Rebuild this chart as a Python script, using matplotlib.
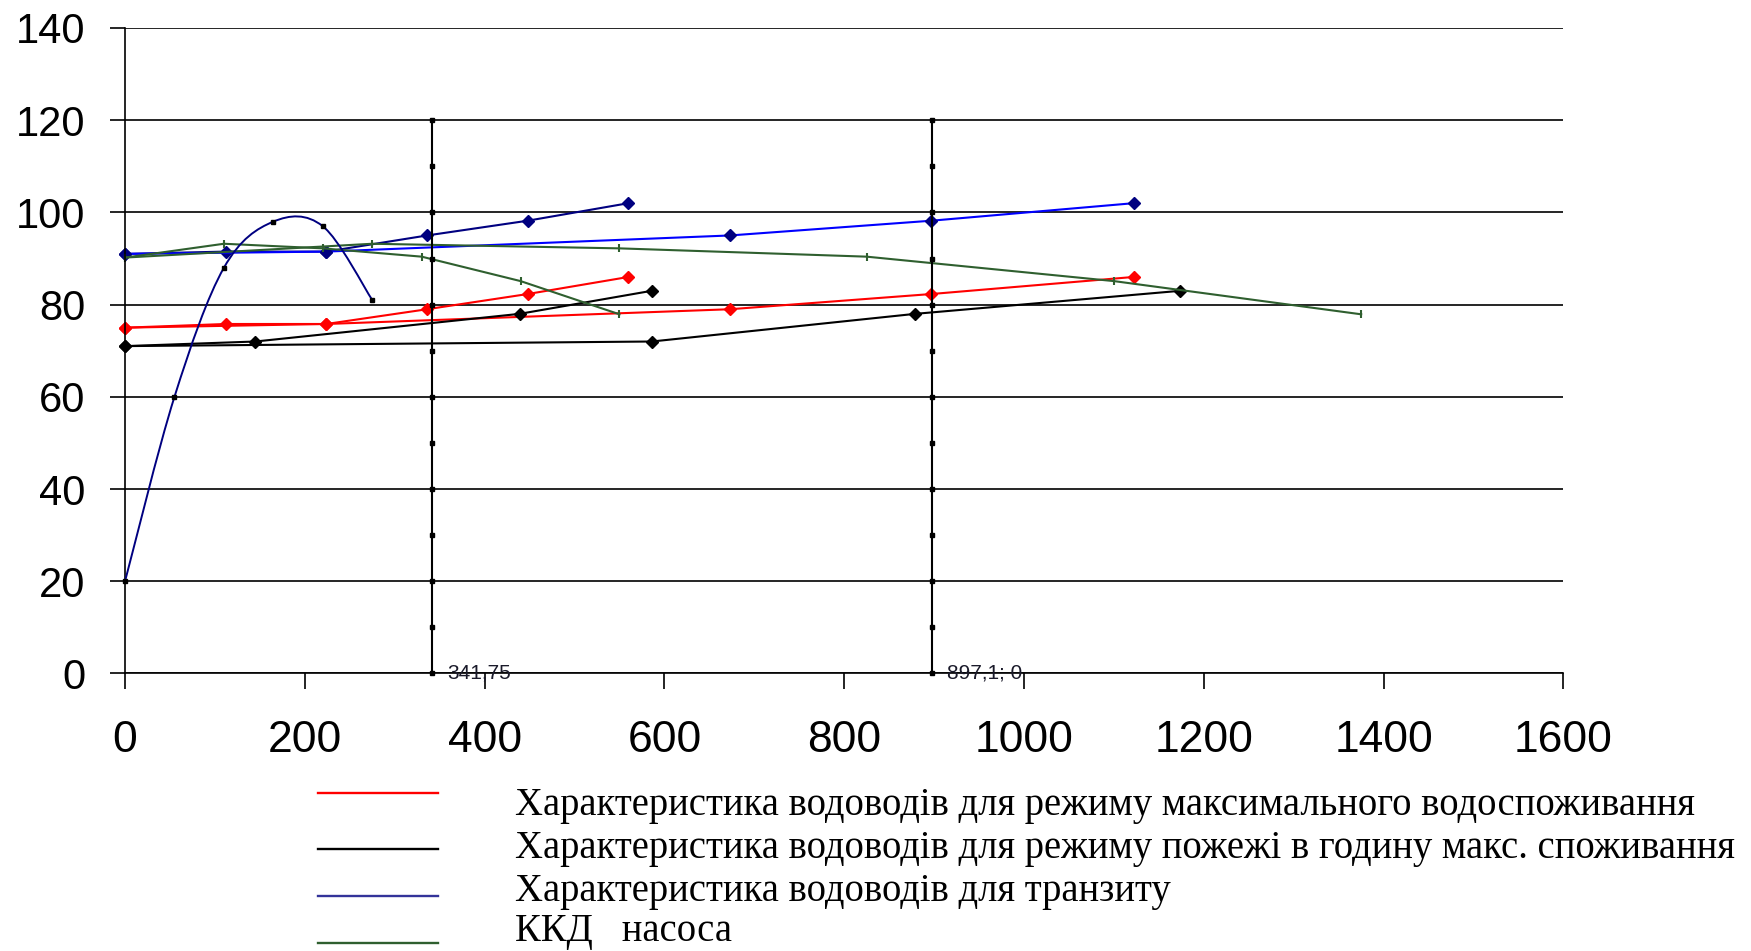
import matplotlib
matplotlib.use("Agg")
import matplotlib.pyplot as plt
from matplotlib.path import Path
from matplotlib.patches import PathPatch
from matplotlib.lines import Line2D

# Water mains characteristic, maximum consumption mode (one and two lines)
q_max_1 = [0, 112, 224, 336, 448, 560]
h_max_1 = [75, 75.8, 75.8, 79, 82.3, 86]
q_max_2 = [0, 224, 673, 897, 1122]
h_max_2 = [75, 75.8, 79, 82.3, 86]

# Fire during the hour of maximum consumption
q_fire_1 = [0, 145, 439, 586]
h_fire_1 = [71, 72, 78, 83]
q_fire_2 = [0, 586, 879, 1174]
h_fire_2 = [71, 72, 78, 83]

# Transit mode
q_tr_1 = [0, 112, 224, 336, 448, 560]
h_tr_1 = [91, 91.5, 91.5, 95, 98.2, 102]
q_tr_2 = [0, 224, 673, 897, 1122]
h_tr_2 = [91, 91.5, 95, 98.2, 102]

# Pump Q-H curve
q_pump = [0, 55, 110, 165, 220, 275]
h_pump = [20, 60, 88, 98, 97, 81]

# Pump efficiency (one pump and pumps in parallel)
q_eff_1 = [0, 110, 220, 330, 440, 550]
eff_1 = [90.2, 93.2, 92.2, 90.4, 85.1, 77.9]
q_eff_2 = [0, 275, 550, 825, 1100, 1375]
eff_2 = [90.2, 93.2, 92.2, 90.4, 85.1, 77.9]

# Operating points (vertical markers)
op_q = [341.75, 897.1]
op_h = [0, 10, 20, 30, 40, 50, 60, 70, 80, 90, 100, 110, 120]
op_labels = ["341,75", "897,1; 0"]

legend_labels = [
    "Характеристика водоводів для режиму максимального водоспоживання",
    "Характеристика водоводів для режиму пожежі в годину макс. споживання",
    "Характеристика водоводів для транзиту",
    "ККД   насоса",
]

x_ticks = [0, 200, 400, 600, 800, 1000, 1200, 1400, 1600]
y_ticks = [0, 20, 40, 60, 80, 100, 120, 140]

RED = "#FF0000"
BLACK = "#000000"
NAVY = "#000080"
BLUE = "#0000FF"
GREEN = "#2F5F2F"

W, H = 1751, 951


def smooth_path(xs, ys):
    """Catmull-Rom style smoothed path through the points as cubic Beziers."""
    pts = list(zip(xs, ys))
    n = len(pts)
    verts = [pts[0]]
    codes = [Path.MOVETO]
    for i in range(n - 1):
        p0 = pts[i - 1] if i > 0 else pts[i]
        p1 = pts[i]
        p2 = pts[i + 1]
        p3 = pts[i + 2] if i + 2 < n else pts[i + 1]
        c1 = (p1[0] + (p2[0] - p0[0]) / 6, p1[1] + (p2[1] - p0[1]) / 6)
        c2 = (p2[0] - (p3[0] - p1[0]) / 6, p2[1] - (p3[1] - p1[1]) / 6)
        verts += [c1, c2, p2]
        codes += [Path.CURVE4] * 3
    return Path(verts, codes)


fig = plt.figure(figsize=(W / 100, H / 100), dpi=100)
ax = fig.add_axes([0.0714, 0.2918, 0.8215, 0.6788])

ax.set_xlim(0, 1600)
ax.set_ylim(0, 140)
ax.set_xticks(x_ticks)
ax.set_yticks(y_ticks)

ax.spines["top"].set_visible(False)
ax.spines["right"].set_visible(False)
for s in ("left", "bottom"):
    ax.spines[s].set_linewidth(1.2)
    ax.spines[s].set_color("black")

ax.yaxis.grid(True, color="black", linewidth=1.2)
ax.set_axisbelow(True)

ax.tick_params(axis="y", direction="out", length=10.8, width=1.2, pad=18,
               labelsize=30)
ax.tick_params(axis="x", direction="out", length=11.5, width=1.2, pad=22,
               labelsize=32)
for lab in ax.get_yticklabels():
    lab.set_fontfamily(["Liberation Sans", "DejaVu Sans"])
for lab in ax.get_xticklabels():
    lab.set_fontfamily(["Liberation Sans", "DejaVu Sans"])

line_kw = dict(linewidth=1.5, clip_on=False)

# Operating point verticals
for q in op_q:
    ax.plot([q] * len(op_h), op_h, color=BLACK, linewidth=1.5, marker="s",
            markersize=2.5, clip_on=False, zorder=3)
for q, text in zip(op_q, op_labels):
    ax.annotate(text, xy=(q, 0), xytext=(11, 0), textcoords="offset points",
                ha="left", va="center", fontsize=15, color="#1a1a2a",
                family=["Liberation Sans", "DejaVu Sans"])

# Maximum consumption
ax.plot(q_max_1, h_max_1, color=RED, marker="D", markersize=6, **line_kw)
ax.plot(q_max_2, h_max_2, color=RED, marker="D", markersize=6, **line_kw)

# Fire mode
ax.plot(q_fire_1, h_fire_1, color=BLACK, marker="D", markersize=6, **line_kw)
ax.plot(q_fire_2, h_fire_2, color=BLACK, marker="D", markersize=6, **line_kw)

# Transit
ax.plot(q_tr_1, h_tr_1, color=NAVY, marker="D", markersize=6, **line_kw)
ax.plot(q_tr_2, h_tr_2, color=BLUE, marker="D", markersize=6,
        markerfacecolor=NAVY, markeredgecolor=NAVY, **line_kw)

# Pump efficiency
ax.plot(q_eff_1, eff_1, color=GREEN, marker="|", markersize=6,
        markeredgewidth=1.5, **line_kw)
ax.plot(q_eff_2, eff_2, color=GREEN, marker="|", markersize=6,
        markeredgewidth=1.5, **line_kw)

# Pump Q-H curve, smoothed
ax.add_patch(PathPatch(smooth_path(q_pump, h_pump), facecolor="none",
                       edgecolor=NAVY, linewidth=1.4, clip_on=False, zorder=4))
ax.plot(q_pump, h_pump, linestyle="none", marker="s", markersize=2.5,
        color=BLACK, clip_on=False, zorder=5)

# Legend below the plot: coloured keys on the left, captions to the right
key_colors = [RED, BLACK, "#333399", GREEN]
key_rows_px = [793, 849, 896, 943]
text_baselines_px = [815, 858, 901.5, 941.5]
key_x0_px, key_x1_px, text_x_px = 318, 438, 515
for color, ky, ty, label in zip(key_colors, key_rows_px, text_baselines_px,
                                legend_labels):
    fig.add_artist(Line2D([key_x0_px / W, key_x1_px / W],
                          [1 - ky / H, 1 - ky / H],
                          transform=fig.transFigure, color=color,
                          linewidth=1.7))
    fig.text(text_x_px / W, 1 - ty / H, label, ha="left", va="baseline",
             fontsize=27.8, family=["Liberation Serif", "DejaVu Serif"],
             color="black")

fig.savefig("out.png", dpi=100)
